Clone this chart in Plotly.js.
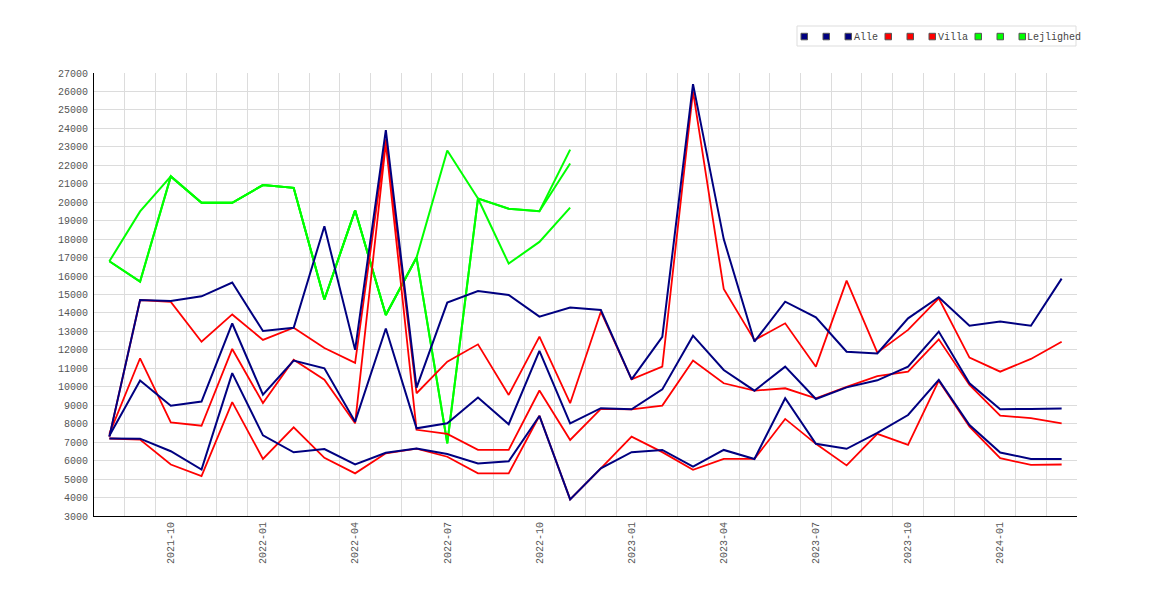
<!DOCTYPE html>
<html>
<head>
<meta charset="utf-8">
<script src="https://cdn.plot.ly/plotly-3.0.1.min.js"></script>
<style>
  html, body { margin: 0; padding: 0; background: #fff; }
  #chart { width: 1170px; height: 600px; }
</style>
</head>
<body>
<div id="chart"></div>
<script>
// ---- data ----
const months = ['2021-08','2021-09','2021-10','2021-11','2021-12','2022-01','2022-02','2022-03',
  '2022-04','2022-05','2022-06','2022-07','2022-08','2022-09','2022-10','2022-11','2022-12',
  '2023-01','2023-02','2023-03','2023-04','2023-05','2023-06','2023-07','2023-08','2023-09',
  '2023-10','2023-11','2023-12','2024-01','2024-02','2024-03'];
const tickLabels = ['2021-10','2022-01','2022-04','2022-07','2022-10','2023-01','2023-04','2023-07','2023-10','2024-01'];
const seriesNames = ['Alle','Villa','Lejlighed'];

const alleHigh = [7300,14700,14650,14900,15650,13020,13200,18700,12000,23900,9950,14560,15190,14970,13800,14300,
  14160,10400,12710,26400,18000,12450,14610,13760,11900,11810,13710,14850,13310,13530,13310,15860];
const alleMid = [7350,10340,8970,9200,13430,9570,11420,11000,8110,13160,7750,8020,9420,7970,11940,8020,
  8840,8780,9860,12770,10910,9790,11090,9340,9970,10350,11090,12990,10190,8780,8800,8820];
const alleLow = [7200,7190,6510,5520,10740,7370,6450,6630,5800,6430,6650,6360,5850,5960,8420,3900,
  5580,6460,6580,5680,6580,6090,9380,6910,6640,7500,8470,10370,7930,6440,6090,6090];

const villaHigh = [7300,14700,14600,12440,13920,12540,13200,12100,11300,23400,9650,11360,12300,9560,12720,9110,
  14070,10400,11090,26000,15300,12530,13440,11090,15750,11850,13080,14790,11580,10820,11510,12440];
const villaMid = [7450,11545,8070,7890,12050,9120,11460,10380,8020,23200,7670,7450,6580,6580,9800,7120,
  8800,8780,8980,11420,10190,9790,9920,9380,10000,10580,10820,12570,10100,8440,8300,8020];
const villaLow = [7200,7140,5790,5160,9170,6090,7800,6150,5310,6400,6650,6210,5310,5310,8430,3900,
  5580,7300,6460,5500,6090,6090,8260,6910,5740,7450,6850,10330,7840,6130,5770,5790];

const lejlHigh = [16800,19500,21400,19970,19970,20930,20780,14730,19560,13890,17000,22800,20200,19650,19510,22850];
const lejlMid  = [16800,15700,21400,19970,19970,20930,20780,14730,19560,13890,17000,6940,20200,19650,19510,22100];
const lejlLow  = [16800,15700,21400,19970,19970,20930,20780,14730,19560,13890,17000,6940,20200,16675,17850,19710];

// ---- build ----
const xIdx = months.map((m, i) => i);
const tickVals = tickLabels.map(l => months.indexOf(l));

const NAVY = '#000080', RED = '#ff0000', GREEN = '#00ff00';
const FONT = 'Liberation Mono, DejaVu Sans Mono, monospace';
function line(y, color, w) {
  return { type: 'scatter', mode: 'lines', x: xIdx.slice(0, y.length), y: y,
           line: { color: color, width: w }, showlegend: false, hoverinfo: 'x+y' };
}
const traces = [
  line(lejlHigh, GREEN, 2), line(lejlMid, GREEN, 2), line(lejlLow, GREEN, 2),
  line(villaHigh, RED, 1.8), line(villaMid, RED, 1.8), line(villaLow, RED, 1.8),
  line(alleHigh, NAVY, 2), line(alleMid, NAVY, 2), line(alleLow, NAVY, 2)
];

// plot area in pixels (for the hand-made legend)
const L = 94, R = 1077, T = 73, B = 516;
const px = x => (x - L) / (R - L);
const py = y => (B - y) / (B - T);

const shapes = [];
const annotations = [];
// legend box
shapes.push({ type: 'rect', xref: 'paper', yref: 'paper', x0: px(797), x1: px(1076), y0: py(46), y1: py(26),
  line: { color: '#dddddd', width: 1 }, fillcolor: '#ffffff', layer: 'above' });
const legendColors = [NAVY, RED, GREEN];
const markerLeft = [[801, 823, 845], [885, 907, 929], [975, 997, 1019]];
const textLeft = [855, 939, 1028];
for (let g = 0; g < 3; g++) {
  for (let k = 0; k < 3; k++) {
    const x0 = markerLeft[g][k];
    shapes.push({ type: 'rect', xref: 'paper', yref: 'paper', x0: px(x0), x1: px(x0 + 6.5), y0: py(39.8), y1: py(33.3),
      line: { color: '#555555', width: 1 }, fillcolor: legendColors[g], layer: 'above' });
  }
  annotations.push({ xref: 'paper', yref: 'paper', x: px(textLeft[g]), y: py(37), xanchor: 'left', yanchor: 'middle',
    xshift: -1, borderpad: 0, borderwidth: 0,
    text: seriesNames[g], showarrow: false, font: { family: FONT, size: 10, color: '#444444' } });
}

const layout = {
  width: 1170, height: 600,
  margin: { l: L, r: 1170 - R, t: T, b: 600 - B, pad: 0 },
  paper_bgcolor: '#ffffff', plot_bgcolor: '#ffffff',
  font: { family: FONT, size: 10, color: '#555555' },
  showlegend: false,
  xaxis: {
    type: 'linear', range: [-0.5, 31.5], fixedrange: true,
    tickmode: 'array', tickvals: tickVals, ticktext: tickLabels, tickangle: -90,
    showgrid: false, zeroline: false, showline: true, linecolor: '#000000', linewidth: 1,
    ticks: '', ticklabelstandoff: 1, tickfont: { family: FONT, size: 10, color: '#555555' },
    minor: { tickmode: 'linear', tick0: 0.5, dtick: 1, showgrid: true, gridcolor: '#dcdcdc', gridwidth: 1, ticks: '' }
  },
  yaxis: {
    range: [3000, 27000], fixedrange: true, tickmode: 'linear', tick0: 3000, dtick: 1000,
    showgrid: true, gridcolor: '#dcdcdc', gridwidth: 1, zeroline: false,
    showline: true, linecolor: '#000000', linewidth: 1, ticks: '', ticklabelstandoff: 3,
    tickfont: { family: FONT, size: 10, color: '#555555' }, tickformat: 'd'
  },
  shapes: shapes,
  annotations: annotations
};

Plotly.newPlot('chart', traces, layout, { displayModeBar: false, staticPlot: true });
</script>
</body>
</html>
